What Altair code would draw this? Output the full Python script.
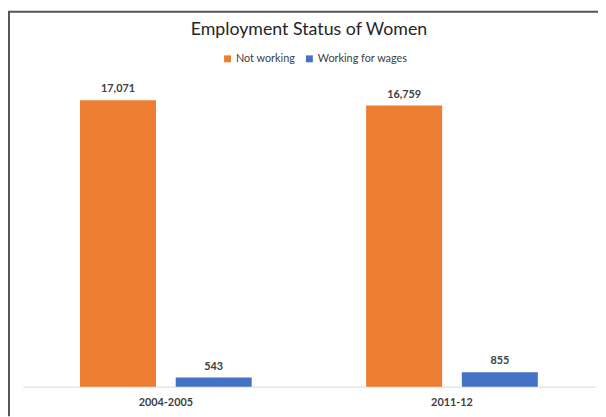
import altair as alt
import pandas as pd

years = ["2004-2005", "2011-12"]
series = ["Not working", "Working for wages"]
not_working = [17071, 16759]
working_for_wages = [543, 855]
colors = ["#ED7D31", "#4472C4"]

rows = []
for i, y in enumerate(years):
    rows.append({"year": y, "series": series[0], "value": not_working[i]})
    rows.append({"year": y, "series": series[1], "value": working_for_wages[i]})
df = pd.DataFrame(rows)

FONT = "Lato"

base = alt.Chart(df).encode(
    x=alt.X(
        "year:N",
        sort=years,
        scale=alt.Scale(paddingInner=0, paddingOuter=0),
        axis=alt.Axis(
            title=None,
            labelAngle=0,
            ticks=False,
            domainColor="#d9d9d9",
            domainWidth=1,
            labelPadding=10,
            labelFontSize=11,
            labelFont=FONT,
            labelFontWeight="bold",
            labelColor="#404040",
        ),
    ),
    xOffset=alt.XOffset(
        "series:N",
        sort=series,
        scale=alt.Scale(paddingInner=0.206, paddingOuter=0.598),
    ),
    y=alt.Y("value:Q", scale=alt.Scale(domain=[0, 20000]), axis=None),
)

bars = base.mark_bar().encode(
    color=alt.Color(
        "series:N",
        sort=series,
        scale=alt.Scale(domain=series, range=colors),
        legend=alt.Legend(
            title=None,
            orient="none",
            legendX=202,
            legendY=2,
            direction="horizontal",
            symbolType="square",
            symbolSize=49,
            symbolStrokeWidth=0,
            labelFontSize=11,
            labelFont=FONT,
            labelColor="#404040",
            labelOffset=3,
            columnPadding=8,
        ),
    )
)

labels = base.mark_text(
    dy=-6, baseline="bottom", fontWeight="bold", fontSize=11, color="#404040", font=FONT
).encode(text=alt.Text("value:Q", format=","))

frame_df = pd.DataFrame({"k": [0]})
frame_left = alt.Chart(frame_df).mark_rule(color="#555555", strokeWidth=2).encode(
    x=alt.value(-14), y=alt.value(-40), y2=alt.value(370)
)
frame_top = alt.Chart(frame_df).mark_rule(color="#555555", strokeWidth=2).encode(
    x=alt.value(-15), x2=alt.value(600), y=alt.value(-40)
)

chart = alt.layer(frame_left, frame_top, bars, labels).properties(
    width=580,
    height=340,
    padding={"left": 15, "top": 41, "right": 3, "bottom": 28},
    autosize=alt.AutoSizeParams(type="none"),
    title=alt.TitleParams(
        "Employment Status of Women",
        fontSize=18,
        font=FONT,
        fontWeight="normal",
        color="#262626",
        anchor="middle",
        frame="group",
        dy=43,
        offset=14,
    ),
).configure_view(stroke=None)

chart.save("out.html", embed_options={"renderer": "svg", "actions": False})
